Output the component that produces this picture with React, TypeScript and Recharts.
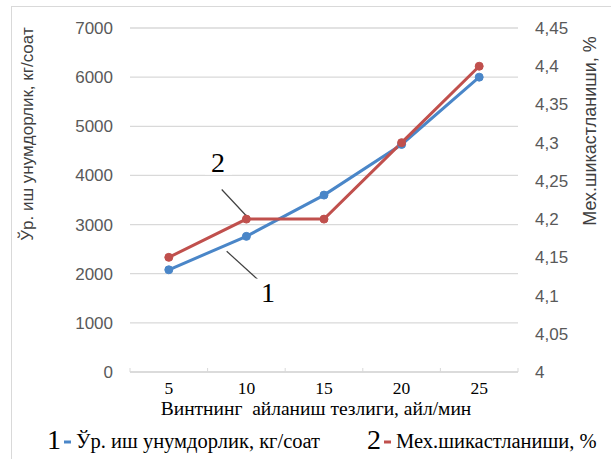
import React from 'react';
import {
  LineChart,
  Line,
  XAxis,
  YAxis,
  CartesianGrid,
  Legend,
  ReferenceLine,
  ReferenceDot,
} from 'recharts';

// Винт айланиш тезлиги (айл/мин)
const speeds = [5, 10, 15, 20, 25];
// 1 — ўртача иш унумдорлик, кг/соат (чап ўқ)
const productivity = [2080, 2760, 3600, 4630, 6000];
// 2 — механик шикастланиш, % (ўнг ўқ)
const damage = [4.15, 4.2, 4.2, 4.3, 4.4];

const leftTicks = [0, 1000, 2000, 3000, 4000, 5000, 6000, 7000];
const rightTicks = [4, 4.05, 4.1, 4.15, 4.2, 4.25, 4.3, 4.35, 4.4, 4.45];
// labels sit on 5..25, the half steps carry the small category marks
const xTicks = [2.5, 5, 7.5, 10, 12.5, 15, 17.5, 20, 22.5, 25, 27.5];

const seriesNames = ['Ўр. иш унумдорлик, кг/соат', 'Мех.шикастланиши, %'];
const xTitle = 'Винтнинг  айланиш тезлиги, айл/мин';
const leftTitle = 'Ўр. иш унумдорлик, кг/соат';
const rightTitle = 'Мех.шикастланиши, %';

// numbered callouts: label position and pointer segment, in speed / left-axis units
const callouts = [
  { label: '1', at: { x: 11.39, y: 1616 }, from: { x: 8.73, y: 2457 }, to: { x: 11.09, y: 1779 } },
  { label: '2', at: { x: 8.17, y: 4262 }, from: { x: 8.41, y: 3713 }, to: { x: 10.02, y: 3169 } },
];

const BLUE = '#4a86c8';
const RED = '#c0504d';
const GRID = '#d9d9d9';
const SANS = 'Liberation Sans';
const SERIF = 'Liberation Serif';

const data = speeds.map((s, i) => ({
  speed: s,
  productivity: productivity[i],
  damage: damage[i],
}));

const SpeedTick = ({ x, y, payload }: any) => {
  const v = payload.value;
  if (v % 5 !== 0) {
    const axisY = y - 10;
    return <line x1={x} x2={x} y1={axisY} y2={axisY - 4} stroke={GRID} />;
  }
  return (
    <text x={x} y={y} dy="0.71em" textAnchor="middle" fontFamily={SERIF} fontSize={17.5} fill="#000">
      {v}
    </text>
  );
};

const LeftTitle = ({ viewBox }: any) => (
  <text
    x={viewBox.x + 27}
    y={viewBox.y + 106}
    transform={`rotate(-90, ${viewBox.x + 27}, ${viewBox.y + 106})`}
    textAnchor="middle"
    dominantBaseline="central"
    fontFamily={SANS}
    fontSize={17}
    fill="#404040"
  >
    {leftTitle}
  </text>
);

const RightTitle = ({ viewBox }: any) => {
  const cx = viewBox.x + 72;
  const cy = viewBox.y + 103;
  return (
    <text
      x={cx}
      y={cy}
      transform={`rotate(-90, ${cx}, ${cy})`}
      textAnchor="middle"
      dominantBaseline="central"
      fontFamily={SANS}
      fontSize={18}
      fill="#404040"
    >
      {rightTitle}
    </text>
  );
};

const BottomTitle = ({ viewBox }: any) => (
  <text
    x={viewBox.x + viewBox.width / 2 - 8}
    y={viewBox.y + 43}
    textAnchor="middle"
    fontFamily={SERIF}
    fontSize={19.5}
    fill="#000"
    style={{ whiteSpace: 'pre' }}
  >
    {xTitle}
  </text>
);

const legendItems = [
  { num: '1', name: seriesNames[0], color: BLUE, x: 47 },
  { num: '2', name: seriesNames[1], color: RED, x: 367 },
];

const ChartLegend = () => (
  <svg width={611} height={40} style={{ display: 'block' }}>
    {legendItems.map((it) => (
      <g key={it.num}>
        <text x={it.x} y={30} fontFamily={SERIF} fontSize={28} fill="#000">
          {it.num}
        </text>
        <line x1={it.x + 17} x2={it.x + 24} y1={23} y2={23} stroke={it.color} strokeWidth={3} />
        <text x={it.x + 29} y={29} fontFamily={SERIF} fontSize={20.5} fill="#000">
          {it.name}
        </text>
      </g>
    ))}
  </svg>
);

export default function App() {
  return (
    <div style={{ position: 'absolute', left: 0, top: 0, width: 611, height: 459, background: '#fff' }}>
      <div
        style={{
          position: 'absolute',
          left: 11,
          top: 6,
          right: 0,
          bottom: 0,
          borderLeft: `1px solid ${GRID}`,
          borderTop: `1px solid ${GRID}`,
        }}
      />
      <LineChart
        width={611}
        height={459}
        data={data}
        margin={{ top: 28, right: 0, bottom: 0, left: 0 }}
        style={{ position: 'absolute', left: 0, top: 0 }}
      >
        <CartesianGrid yAxisId="left" xAxisId="speed" vertical={false} stroke={GRID} strokeWidth={1.3} />
        <XAxis
          xAxisId="speed"
          dataKey="speed"
          type="number"
          domain={[2.5, 27.5]}
          ticks={xTicks}
          interval={0}
          height={47}
          tickSize={0}
          tickMargin={10}
          tickLine={false}
          axisLine={{ stroke: GRID, strokeWidth: 1.3 }}
          tick={<SpeedTick />}
          label={BottomTitle}
        />
        <YAxis
          yAxisId="left"
          orientation="left"
          width={130}
          domain={[0, 7000]}
          ticks={leftTicks}
          interval={0}
          axisLine={false}
          tickLine={false}
          tickSize={0}
          tickMargin={17}
          tick={{ fill: '#595959', fontSize: 17, fontFamily: SANS }}
          label={LeftTitle}
        />
        <YAxis
          yAxisId="right"
          orientation="right"
          width={93}
          domain={[4, 4.45]}
          ticks={rightTicks}
          interval={0}
          axisLine={false}
          tickLine={false}
          tickSize={0}
          tickMargin={17}
          tick={{ fill: '#595959', fontSize: 17, fontFamily: SANS, textAnchor: 'start' }}
          tickFormatter={(v: number) => String(v).replace('.', ',')}
          label={RightTitle}
        />
        <Legend verticalAlign="bottom" height={40} wrapperStyle={{ left: 0 }} content={<ChartLegend />} />
        <Line
          xAxisId="speed"
          yAxisId="left"
          dataKey="productivity"
          name={seriesNames[0]}
          stroke={BLUE}
          strokeWidth={3}
          dot={{ r: 4, fill: BLUE, stroke: BLUE, strokeWidth: 1 }}
          isAnimationActive={false}
        />
        <Line
          xAxisId="speed"
          yAxisId="right"
          dataKey="damage"
          name={seriesNames[1]}
          stroke={RED}
          strokeWidth={3}
          dot={{ r: 4, fill: RED, stroke: RED, strokeWidth: 1 }}
          isAnimationActive={false}
        />
        {callouts.map((c) => (
          <ReferenceLine
            key={`lead-${c.label}`}
            xAxisId="speed"
            yAxisId="left"
            segment={[c.from, c.to]}
            stroke="#404040"
            strokeWidth={1.2}
          />
        ))}
        {callouts.map((c) => (
          <ReferenceDot
            key={`num-${c.label}`}
            xAxisId="speed"
            yAxisId="left"
            x={c.at.x}
            y={c.at.y}
            r={0}
            shape={(p: any) => (
              <g>
                <rect x={p.cx - 13} y={p.cy - 14} width={27} height={26} fill="#fff" />
                <text
                  x={p.cx}
                  y={p.cy}
                  dy="0.35em"
                  textAnchor="middle"
                  fontFamily={SERIF}
                  fontSize={28}
                  fill="#000"
                >
                  {c.label}
                </text>
              </g>
            )}
          />
        ))}
      </LineChart>
    </div>
  );
}
